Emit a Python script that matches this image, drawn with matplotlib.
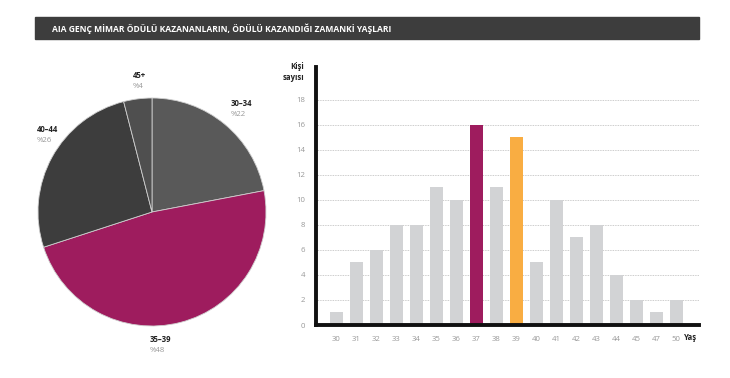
import matplotlib
matplotlib.use('Agg')
from matplotlib import pyplot as plt
from matplotlib.patches import Rectangle

plt.rcParams['font.family'] = ['Open Sans', 'DejaVu Sans']

title = 'AIA GENÇ MİMAR ÖDÜLÜ KAZANANLARIN, ÖDÜLÜ KAZANDIĞI ZAMANKİ YAŞLARI'

# pie data
groups = ['30–34', '35–39', '40–44', '45+']
shares = [22, 48, 26, 4]
pie_colors = ['#595959', '#9e1c5e', '#3d3d3d', '#4f4f4f']

# bar data
ages = ['30', '31', '32', '33', '34', '35', '36', '37', '38', '39',
        '40', '41', '42', '43', '44', '45', '47', '50']
counts = [1, 5, 6, 8, 8, 11, 10, 16, 11, 15, 5, 10, 7, 8, 4, 2, 1, 2]
highlight = {'37': '#9e1c5e', '39': '#f9ad42'}

W, H = 730, 378
fig = plt.figure(figsize=(W / 100, H / 100), dpi=100)


def box(l, t, r, b):
    return [l / W, (H - b) / H, (r - l) / W, (b - t) / H]


# title bar
fig.patches.append(Rectangle((35 / W, (H - 39) / H), (699 - 35) / W, 22 / H,
                             transform=fig.transFigure, color='#3d3d3d', zorder=0))
fig.text(52 / W, (H - 28.5) / H, title, color='white', fontsize=6.15,
         fontweight='bold', va='center', ha='left')

# pie
ax1 = fig.add_axes(box(38, 98, 266, 326))
ax1.pie(shares, colors=pie_colors, startangle=90, counterclock=False,
        wedgeprops=dict(edgecolor='#cfcfcf', linewidth=0.6), radius=1)
ax1.set_xlim(-1, 1)
ax1.set_ylim(-1, 1)
ax1.set_aspect('equal')
ax1.axis('off')

# label positions in pixels (left edge, top line)
label_pos = [(231, 104), (150, 340), (37, 129), (133, 75)]
for g, s, (px, py) in zip(groups, shares, label_pos):
    fig.text(px / W, (H - py) / H, g, fontsize=5.6, fontweight='bold',
             color='#222222', ha='left', va='center')
    fig.text(px / W, (H - py - 11) / H, '%' + str(s), fontsize=5.6,
             color='#999999', ha='left', va='center')

# bars
ax2 = fig.add_axes(box(316, 67, 699, 325))
x = list(range(len(ages)))
bar_colors = [highlight.get(a, '#d2d3d5') for a in ages]
ax2.bar(x, counts, width=0.65, color=bar_colors, zorder=3)
ax2.set_xlim(-1, 18.15)
ax2.set_ylim(0, 20.6)
ax2.set_yticks(range(0, 19, 2))
ax2.yaxis.grid(True, color='#bbbbbb', linestyle=(0, (1, 1)), linewidth=0.6, zorder=0)
ax2.set_xticks(x)
ax2.set_xticklabels(ages)
ax2.tick_params(axis='both', length=0, labelsize=5.6, labelcolor='#999999')
ax2.tick_params(axis='x', pad=8)
ax2.tick_params(axis='y', pad=8)
for side in ['top', 'right']:
    ax2.spines[side].set_visible(False)
for side in ['left', 'bottom']:
    ax2.spines[side].set_linewidth(2.8)
    ax2.spines[side].set_color('#111111')
    ax2.spines[side].set_zorder(4)

fig.text(304 / W, (H - 72) / H, 'Kişi\nsayısı', fontsize=5.6, fontweight='bold',
         color='#222222', ha='right', va='center', linespacing=1.4)
fig.text(697 / W, (H - 338) / H, 'Yaş', fontsize=5.6, fontweight='bold',
         color='#222222', ha='right', va='center')

fig.savefig('out.png', dpi=100)
